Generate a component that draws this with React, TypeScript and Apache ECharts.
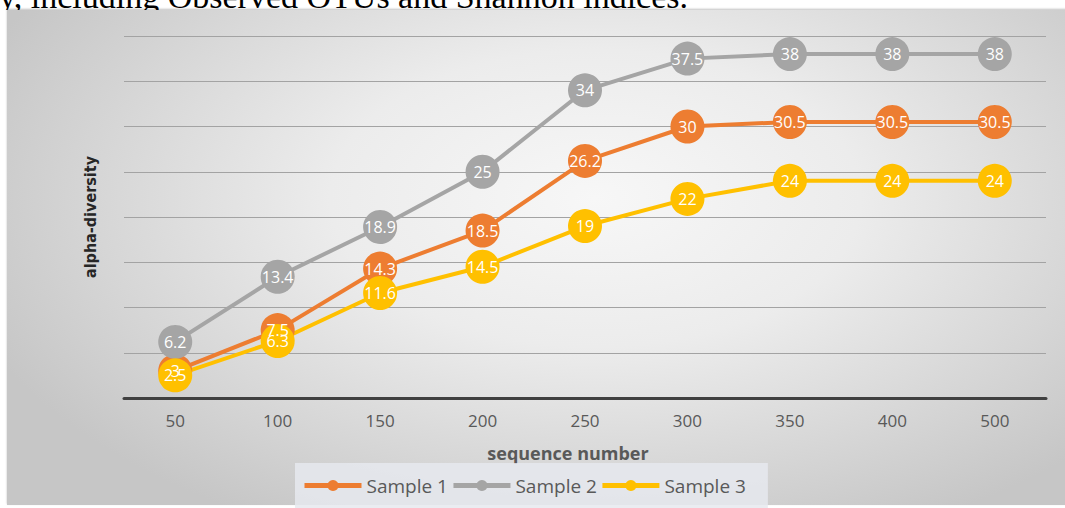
import React, { useEffect, useRef } from "react";
import * as echarts from "echarts";

const categories = ["50", "100", "150", "200", "250", "300", "350", "400", "500"];
const sample1 = [3, 7.5, 14.3, 18.5, 26.2, 30, 30.5, 30.5, 30.5];
const sample2 = [6.2, 13.4, 18.9, 25, 34, 37.5, 38, 38, 38];
const sample3 = [2.5, 6.3, 11.6, 14.5, 19, 22, 24, 24, 24];
const seriesNames = ["Sample 1", "Sample 2", "Sample 3"];
const seriesColors = ["#ED7D31", "#A5A5A5", "#FFC000"];
const captionText = "y, including Observed OTUs and Shannon indices.";
const xName = "sequence number";
const yName = "alpha-diversity";

const FONT = "'Open Sans', 'Noto Sans', sans-serif";

export default function App() {
  const ref = useRef<HTMLDivElement>(null);

  useEffect(() => {
    if (!ref.current) return;
    const chart = echarts.init(ref.current, undefined, { renderer: "svg" });
    const datas = [sample1, sample2, sample3];
    chart.setOption({
      animation: false,
      backgroundColor: "transparent",
      grid: { left: 124, right: 19, top: 36, bottom: 110, containLabel: false },
      legend: {
        left: 295,
        top: 463,
        padding: [13, 22, 13, 7],
        backgroundColor: "rgba(230,233,238,0.85)",
        itemWidth: 57,
        itemHeight: 14,
        itemGap: 3,
        lineStyle: { width: 5 },
        textStyle: { color: "#595959", fontSize: 19, fontFamily: FONT },
        data: seriesNames,
      },
      xAxis: {
        type: "category",
        data: categories,
        boundaryGap: true,
        axisTick: { show: false },
        axisLine: { lineStyle: { color: "#404040", width: 3 } },
        axisLabel: { color: "#595959", fontSize: 17, fontFamily: FONT, margin: 14 },
        name: xName,
        nameLocation: "middle",
        nameGap: 46,
        nameTextStyle: {
          color: "#595959",
          fontSize: 18,
          fontWeight: "bold",
          fontFamily: FONT,
          padding: [0, 34, 0, 0],
        },
      },
      yAxis: {
        type: "value",
        min: 0,
        max: 40,
        interval: 5,
        axisLabel: { show: false },
        axisLine: { show: false },
        axisTick: { show: false },
        splitLine: { lineStyle: { color: "#a3a3a3", width: 1 } },
        name: yName,
        nameLocation: "middle",
        nameRotate: 90,
        nameGap: 26,
        nameTextStyle: {
          color: "#262626",
          fontSize: 16,
          fontWeight: "bold",
          fontFamily: "'Liberation Sans Narrow', 'DejaVu Sans Condensed', sans-serif",
        },
      },
      series: datas.map((d, i) => ({
        name: seriesNames[i],
        type: "line",
        data: d,
        symbol: "circle",
        symbolSize: 34,
        lineStyle: { width: 4, color: seriesColors[i] },
        itemStyle: { color: seriesColors[i] },
        label: {
          show: true,
          position: "inside",
          color: "#ffffff",
          fontSize: 16,
          fontFamily: FONT,
        },
      })),
    });
    return () => chart.dispose();
  }, []);

  return (
    <div style={{ position: "fixed", left: 0, top: 0, width: 1065, height: 508, background: "#ffffff", overflow: "hidden" }}>
      <div
        style={{
          position: "absolute",
          left: 0,
          top: 0,
          width: 1065,
          height: 10,
          overflow: "hidden",
        }}
      >
        <div
          style={{
            position: "absolute",
            left: -1,
            top: -20,
            fontFamily: "'Liberation Serif', 'Times New Roman', serif",
            fontSize: 34,
            lineHeight: "34px",
            color: "#000",
            whiteSpace: "nowrap",
          }}
        >
          {captionText}
        </div>
      </div>
      <div
        style={{
          position: "absolute",
          left: 7,
          top: 10,
          width: 1070,
          height: 495,
          background:
            "radial-gradient(ellipse 62% 75% at 55% 38%, #f7f7f7 0%, #ececec 40%, #d6d6d6 75%, #c6c6c6 100%)",
          boxShadow: "0 -1px 2px rgba(0,0,0,0.25)",
        }}
      />
      <div ref={ref} style={{ position: "absolute", left: 0, top: 0, width: 1065, height: 508 }} />
    </div>
  );
}
